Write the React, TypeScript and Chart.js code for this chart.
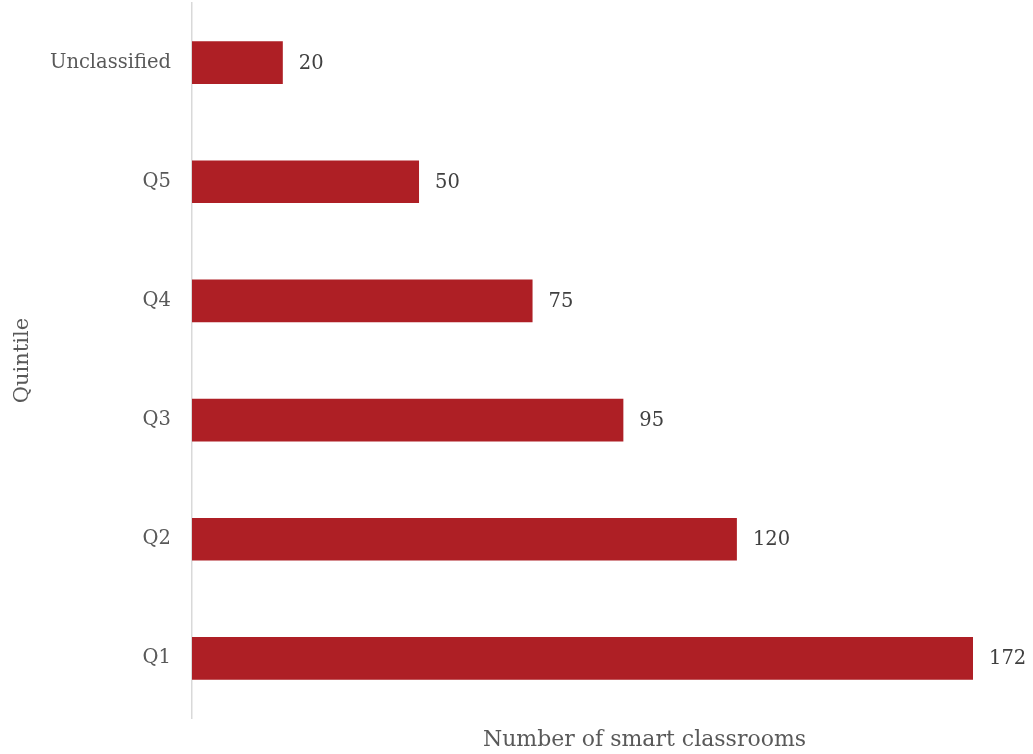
import React, { useEffect, useRef } from "react";
import { Chart, registerables } from "chart.js";

Chart.register(...registerables);

const categories = ["Unclassified", "Q5", "Q4", "Q3", "Q2", "Q1"];
const classrooms = [20, 50, 75, 95, 120, 172];
const xAxisTitle = "Number of smart classrooms";
const yAxisTitle = "Quintile";

const FONT = "'DejaVu Serif', serif";

export default function App() {
  const ref = useRef<HTMLCanvasElement | null>(null);

  useEffect(() => {
    if (!ref.current) return;
    const valueLabels = {
      id: "valueLabels",
      afterDatasetsDraw(chart: any) {
        const ctx = chart.ctx;
        const meta = chart.getDatasetMeta(0);
        ctx.save();
        ctx.font = `19.5px ${FONT}`;
        ctx.fillStyle = "#404040";
        ctx.textAlign = "left";
        ctx.textBaseline = "middle";
        meta.data.forEach((bar: any, i: number) => {
          ctx.fillText(String(classrooms[i]), bar.x + 16, bar.y + 1);
        });
        ctx.restore();
      },
    };
    const xTitle = {
      id: "xTitle",
      afterDraw(chart: any) {
        const ctx = chart.ctx;
        const area = chart.chartArea;
        ctx.save();
        ctx.font = `22px ${FONT}`;
        ctx.fillStyle = "#595959";
        ctx.textAlign = "center";
        ctx.textBaseline = "middle";
        ctx.fillText(xAxisTitle, (area.left + area.right) / 2 + 62, area.bottom + 22);
        ctx.restore();
      },
    };
    const chart = new Chart(ref.current, {
      type: "bar",
      data: {
        labels: categories,
        datasets: [
          {
            data: classrooms,
            backgroundColor: "#AE1F25",
            borderWidth: 0,
            barPercentage: 0.6,
            categoryPercentage: 0.597,
          },
        ],
      },
      options: {
        indexAxis: "y",
        responsive: false,
        animation: false,
        layout: { padding: { left: 0, right: 60, top: 3, bottom: 36 } },
        plugins: {
          legend: { display: false },
          tooltip: { enabled: false },
        },
        scales: {
          x: {
            display: false,
            min: 0,
            max: 172,
          },
          y: {
            afterFit(scale: any) {
              scale.width = 192;
              scale.paddingTop = 0;
              scale.paddingBottom = 0;
            },
            grid: { display: false, drawTicks: false },
            border: { display: true, color: "#d9d9d9", width: 1.5 },
            ticks: {
              color: "#595959",
              font: { family: FONT, size: 19.5 },
              padding: 21,
            },
            title: {
              display: true,
              text: yAxisTitle,
              color: "#595959",
              font: { family: FONT, size: 21 },
              padding: { top: 10, bottom: 0 },
            },
          },
        },
      },
      plugins: [valueLabels, xTitle],
    });
    return () => chart.destroy();
  }, []);

  return (
    <div style={{ position: "absolute", left: 0, top: 0, width: 1033, height: 754, background: "#fff" }}>
      <canvas ref={ref} width={1033} height={754} />
    </div>
  );
}
